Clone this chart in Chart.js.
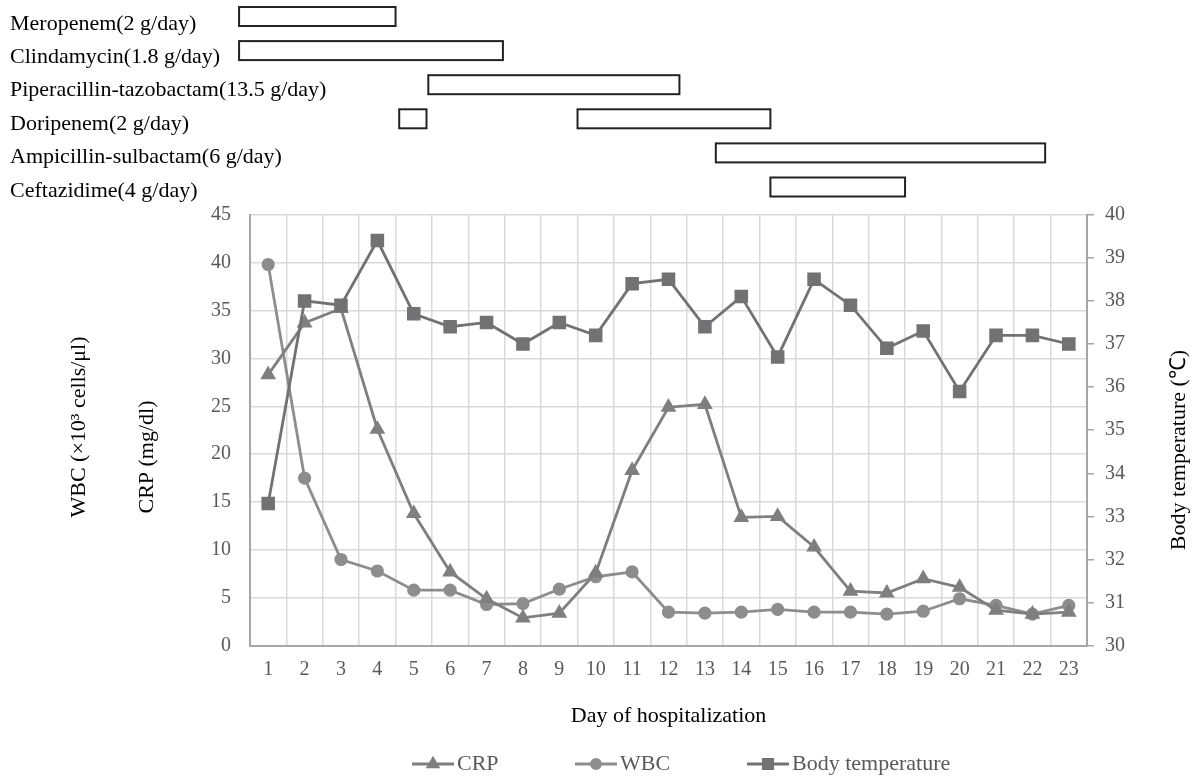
<!DOCTYPE html>
<html><head><meta charset="utf-8">
<script src="https://cdn.jsdelivr.net/npm/chart.js@4.4.0/dist/chart.umd.min.js"></script>
<style>html,body{margin:0;padding:0;background:#fff}#wrap{width:1194px;height:778px;position:relative}</style>
</head><body><div id="wrap"><canvas id="c"></canvas></div>
<script>
const days = ['1','2','3','4','5','6','7','8','9','10','11','12','13','14','15','16','17','18','19','20','21','22','23'];
const crp = [28.3, 33.7, 35.2, 22.6, 13.8, 7.7, 4.9, 2.9, 3.4, 7.6, 18.3, 24.9, 25.2, 13.4, 13.5, 10.3, 5.7, 5.5, 7.0, 6.1, 3.7, 3.3, 3.5];
const wbc = [39.8, 17.5, 9.0, 7.8, 5.8, 5.8, 4.3, 4.4, 5.9, 7.2, 7.7, 3.5, 3.4, 3.5, 3.8, 3.5, 3.5, 3.3, 3.6, 4.9, 4.2, 3.3, 4.2];
const temp = [33.3, 38.0, 37.9, 39.4, 37.7, 37.4, 37.5, 37.0, 37.5, 37.2, 38.4, 38.5, 37.4, 38.1, 36.7, 38.5, 37.9, 36.9, 37.3, 35.9, 37.2, 37.2, 37.0];
const drugNames = ['Meropenem(2 g/day)', 'Clindamycin(1.8 g/day)', 'Piperacillin-tazobactam(13.5 g/day)', 'Doripenem(2 g/day)', 'Ampicillin-sulbactam(6 g/day)', 'Ceftazidime(4 g/day)'];
// treatment periods, in day units (start, end)
const drugPeriods = [
  [[0.2, 4.5]],
  [[0.2, 7.45]],
  [[5.4, 12.3]],
  [[4.6, 5.35], [9.5, 14.8]],
  [[13.3, 22.35]],
  [[14.8, 18.5]]
];
const leftTitles = ['WBC (\u00d710\u00b3 cells/\u03bcl)', 'CRP (mg/dl)'];
const rightTitle = 'Body temperature (\u2103)';
const xTitle = 'Day of hospitalization';

const FONT = "'Liberation Serif', 'Times New Roman', serif";
const TICK = '#595959';

const extras = {
  id: 'extras',
  afterDraw(chart) {
    const ctx = chart.ctx;
    const x = chart.scales.x;
    const area = chart.chartArea;
    ctx.save();
    // drug rows
    ctx.font = '22px ' + FONT;
    ctx.textAlign = 'left';
    ctx.textBaseline = 'alphabetic';
    drugNames.forEach((name, i) => {
      ctx.fillStyle = '#000';
      ctx.fillText(name, 10, 29.5 + i * 33.4);
      const cy = 16.5 + i * 34.1;
      drugPeriods[i].forEach(p => {
        const x0 = x.getPixelForValue(p[0] - 1);
        const x1 = x.getPixelForValue(p[1] - 1);
        ctx.fillStyle = '#fff';
        ctx.fillRect(x0, cy - 9.5, x1 - x0, 19);
        ctx.strokeStyle = '#222';
        ctx.lineWidth = 2;
        ctx.strokeRect(x0, cy - 9.5, x1 - x0, 19);
      });
    });
    // axis titles
    ctx.fillStyle = '#000';
    ctx.textAlign = 'center';
    ctx.textBaseline = 'middle';
    const rot = (t, cx, cy) => {
      ctx.save(); ctx.translate(cx, cy); ctx.rotate(-Math.PI / 2); ctx.fillText(t, 0, 0); ctx.restore();
    };
    rot(leftTitles[0], 79, 427);
    rot(leftTitles[1], 147, 457);
    rot(rightTitle, 1179, 450);
    ctx.fillText(xTitle, (area.left + area.right) / 2, 716);
    // legend
    const starts = [412, 575, 747];
    chart.data.datasets.forEach((ds, i) => {
      const lx = starts[i], ly = 764;
      ctx.strokeStyle = ds.borderColor;
      ctx.lineWidth = 3;
      ctx.beginPath(); ctx.moveTo(lx, ly); ctx.lineTo(lx + 42, ly); ctx.stroke();
      ctx.fillStyle = ds.pointBackgroundColor;
      ctx.strokeStyle = ds.pointBorderColor;
      Chart.helpers.drawPoint(ctx, {pointStyle: ds.pointStyle, radius: ds.pointRadius * 0.85, rotation: 0, borderWidth: 1}, lx + 21, ly);
      ctx.fillStyle = TICK;
      ctx.textAlign = 'left';
      ctx.fillText(ds.label, lx + 45, ly);
    });
    ctx.restore();
  }
};

new Chart(document.getElementById('c'), {
  type: 'line',
  data: {
    labels: days,
    datasets: [
      { label: 'CRP', data: crp, yAxisID: 'y', borderColor: '#7f7f7f', backgroundColor: '#7f7f7f',
        pointBackgroundColor: '#7f7f7f', pointBorderColor: '#7f7f7f', pointStyle: 'triangle', pointRadius: 6.3, borderWidth: 2.8, order: 2 },
      { label: 'WBC', data: wbc, yAxisID: 'y', borderColor: '#8d8d8f', backgroundColor: '#8d8d8f',
        pointBackgroundColor: '#8d8d8f', pointBorderColor: '#8d8d8f', pointStyle: 'circle', pointRadius: 5.2, borderWidth: 2.8, order: 3 },
      { label: 'Body temperature', data: temp, yAxisID: 'y1', borderColor: '#727274', backgroundColor: '#727274',
        pointBackgroundColor: '#727274', pointBorderColor: '#727274', pointStyle: 'rect', pointRadius: 7.6, borderWidth: 2.8, order: 1 }
    ]
  },
  options: {
    responsive: true,
    maintainAspectRatio: false,
    animation: false,
    devicePixelRatio: 1,
    layout: { padding: { top: 214.7, left: 0, right: 0, bottom: 0 } },
    plugins: { legend: { display: false }, tooltip: { enabled: false } },
    elements: { line: { tension: 0 } },
    scales: {
      x: {
        offset: true,
        grid: { offset: true, color: '#d9d9d9', lineWidth: 1.5, drawTicks: false },
        border: { color: '#a6a6a6', width: 2 },
        ticks: { color: TICK, font: { family: FONT, size: 20 }, padding: 12, maxRotation: 0, autoSkip: false },
        afterFit(s) { s.height = 132.3; }
      },
      y: {
        position: 'left', min: 0, max: 45,
        grid: { color: '#d9d9d9', lineWidth: 1.5, drawTicks: false },
        border: { color: '#a6a6a6', width: 2 },
        ticks: { stepSize: 5, color: TICK, font: { family: FONT, size: 20 }, padding: 19 },
        afterFit(s) { s.width = 250; }
      },
      y1: {
        position: 'right', min: 30, max: 40,
        grid: { drawOnChartArea: false, drawTicks: true, tickLength: 7, color: '#a6a6a6', lineWidth: 1.5 },
        border: { color: '#a6a6a6', width: 2 },
        ticks: { stepSize: 1, color: TICK, font: { family: FONT, size: 20 }, padding: 11 },
        afterFit(s) { s.width = 107; }
      }
    }
  },
  plugins: [extras]
});
</script>
</body></html>
